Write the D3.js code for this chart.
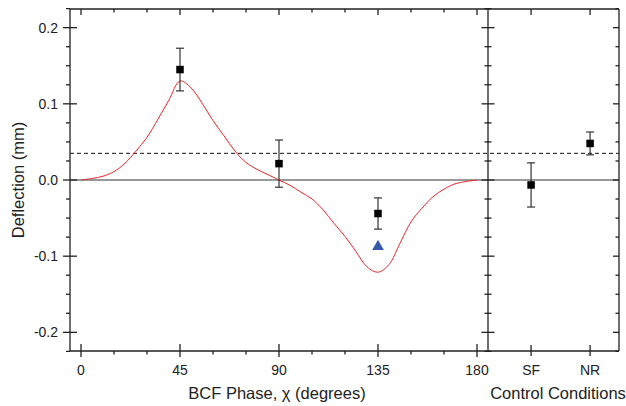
<!DOCTYPE html>
<html><head><meta charset="utf-8">
<script src="https://cdn.jsdelivr.net/npm/d3@7"></script>
<style>body{margin:0;background:#fff}svg{display:block}text{font-family:"Liberation Sans",Arial,sans-serif;fill:#222}</style>
</head><body><svg id="c" width="626" height="406"></svg>
<script>
// Data
const phaseDeg = [45, 90, 135];
const phaseVal = [0.145, 0.0215, -0.044];
const phaseErr = [0.028, 0.031, 0.0205];
const triX = [135];
const triVal = [-0.086];
const controlCats = ["SF", "NR"];
const controlVal = [-0.0065, 0.048];
const controlErr = [0.029, 0.015];
const curveX = [0,5,10,15,20,25,30,35,40,45,50,55,60,65,70,75,80,85,90,95,100,105,110,115,120,125,130,135,140,145,150,155,160,165,170,175,180];
const curveY = [0,0.002,0.005,0.011,0.022,0.038,0.056,0.080,0.105,0.130,0.121,0.101,0.078,0.058,0.038,0.023,0.014,0.007,0.0,-0.007,-0.016,-0.025,-0.039,-0.057,-0.074,-0.094,-0.114,-0.121,-0.111,-0.083,-0.055,-0.037,-0.022,-0.012,-0.005,-0.002,0];
const xTicks = [0, 45, 90, 135, 180];
const xMinor = d3.range(0, 181, 15);
const yTicks = [-0.2, -0.1, 0.0, 0.1, 0.2];
const yMinor = d3.range(-0.225, 0.2251, 0.025);
const dashedLevel = 0.035;

const svg = d3.select("#c");
const L = 70, D = 488, R = 619, T = 9, B = 351;
const x = d3.scaleLinear().domain([-5, 185]).range([L, D]);
const xi = d3.scaleLinear().domain([-0.73, 1.49]).range([D, R]);
const xc = c => xi(controlCats.indexOf(c));
const y = d3.scaleLinear().domain([-0.2245, 0.2245]).range([B, T]);
const ax = "#222";

// reference lines
svg.append("line").attr("x1", L).attr("x2", R).attr("y1", y(0)).attr("y2", y(0)).attr("stroke", "#777").attr("stroke-width", 1.3);
svg.append("line").attr("x1", L).attr("x2", R).attr("y1", y(dashedLevel)).attr("y2", y(dashedLevel)).attr("stroke", "#111").attr("stroke-width", 1).attr("stroke-dasharray", "4,3");

// curve
const line = d3.line().x((d, i) => x(curveX[i])).y(d => y(d)).curve(d3.curveCatmullRom.alpha(0.5));
svg.append("path").attr("d", line(curveY)).attr("fill", "none").attr("stroke", "#e8282a").attr("stroke-width", 1);

// frame
const g = svg.append("g").attr("stroke", ax).attr("stroke-width", 1.3);
g.append("line").attr("x1", L).attr("x2", R).attr("y1", T).attr("y2", T);
g.append("line").attr("x1", L).attr("x2", R).attr("y1", B).attr("y2", B);
g.append("line").attr("x1", L).attr("x2", L).attr("y1", T).attr("y2", B);
g.append("line").attr("x1", D).attr("x2", D).attr("y1", T).attr("y2", B);
g.append("line").attr("x1", R).attr("x2", R).attr("y1", T).attr("y2", B);

const isMajorY = v => yTicks.some(t => Math.abs(t - v) < 1e-6);
const isMajorX = v => xTicks.includes(v);
yMinor.forEach(v => {
  const yy = y(v), maj = isMajorY(v);
  if (maj) g.append("line").attr("x1", L - 7).attr("x2", L + 7).attr("y1", yy).attr("y2", yy);
  else g.append("line").attr("x1", L - 4).attr("x2", L).attr("y1", yy).attr("y2", yy);
  const h = maj ? 6.5 : 3.5;
  g.append("line").attr("x1", D - h).attr("x2", D + h).attr("y1", yy).attr("y2", yy);
  g.append("line").attr("x1", R - (maj ? 6 : 3.5)).attr("x2", R).attr("y1", yy).attr("y2", yy);
});
xMinor.forEach(v => {
  const xx = x(v), maj = isMajorX(v);
  if (maj) g.append("line").attr("x1", xx).attr("x2", xx).attr("y1", B - 7).attr("y2", B + 6);
  else g.append("line").attr("x1", xx).attr("x2", xx).attr("y1", B).attr("y2", B + 3.5);
  g.append("line").attr("x1", xx).attr("x2", xx).attr("y1", T).attr("y2", T + (maj ? 6 : 3.5));
});
controlCats.forEach(c => {
  const xx = xc(c);
  g.append("line").attr("x1", xx).attr("x2", xx).attr("y1", B - 6).attr("y2", B + 5);
  g.append("line").attr("x1", xx).attr("x2", xx).attr("y1", T).attr("y2", T + 6);
});

// tick labels
const tl = svg.append("g").attr("font-size", 14);
yTicks.forEach(v => tl.append("text").attr("x", 58).attr("y", y(v) + 5).attr("text-anchor", "end").text(v.toFixed(1)));
xTicks.forEach(v => tl.append("text").attr("x", x(v)).attr("y", 375).attr("text-anchor", "middle").text(v));
controlCats.forEach(c => tl.append("text").attr("x", xc(c)).attr("y", 375).attr("text-anchor", "middle").text(c));

// titles
svg.append("text").attr("x", 277).attr("y", 399).attr("text-anchor", "middle").attr("font-size", 16.5).text("BCF Phase, χ (degrees)");
svg.append("text").attr("x", 558).attr("y", 399).attr("text-anchor", "middle").attr("font-size", 16.5).text("Control Conditions");
svg.append("text").attr("transform", `translate(24,${y(0)}) rotate(-90)`).attr("text-anchor", "middle").attr("font-size", 16.5).text("Deflection (mm)");

// error bars + points
function errBar(cx, v, e) {
  const eg = svg.append("g").attr("stroke", "#333").attr("stroke-width", 1.2);
  eg.append("line").attr("x1", cx).attr("x2", cx).attr("y1", y(v + e)).attr("y2", y(v - e));
  [v + e, v - e].forEach(w => eg.append("line").attr("x1", cx - 4).attr("x2", cx + 4).attr("y1", y(w)).attr("y2", y(w)));
  svg.append("rect").attr("x", cx - 3.75).attr("y", y(v) - 3.75).attr("width", 7.5).attr("height", 7.5).attr("fill", "#000");
}
phaseDeg.forEach((d, i) => errBar(x(d), phaseVal[i], phaseErr[i]));
controlCats.forEach((c, i) => errBar(xc(c), controlVal[i], controlErr[i]));
triX.forEach((d, i) => svg.append("path").attr("d", d3.symbol(d3.symbolTriangle, 60)()).attr("transform", `translate(${x(d)},${y(triVal[i]) + 1})`).attr("fill", "#3558a8"));
</script></body></html>
